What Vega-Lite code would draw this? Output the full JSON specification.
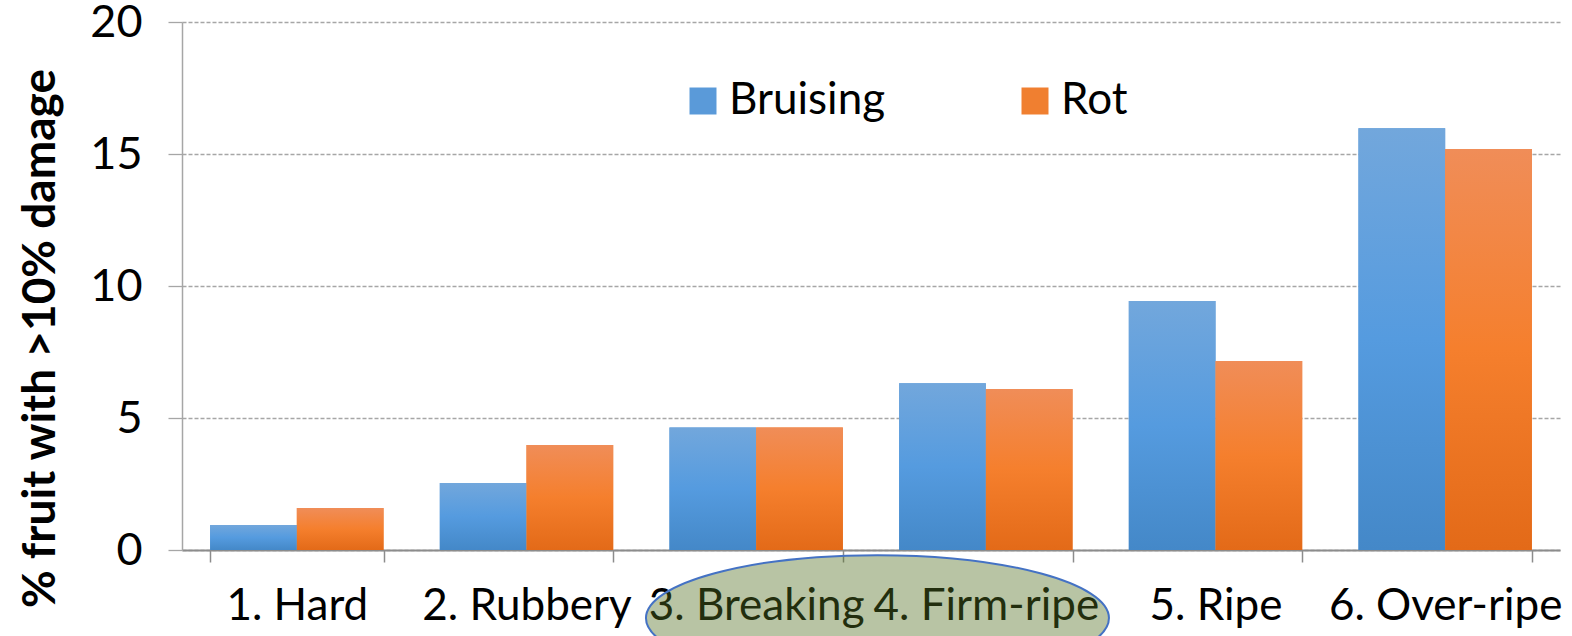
{
  "$schema": "https://vega.github.io/schema/vega-lite/v6.json",
  "autosize": "none",
  "width": 1378,
  "height": 528,
  "padding": {"left": 182, "top": 22, "right": 12, "bottom": 86},
  "background": "white",
  "config": {"view": {"stroke": null}, "font": "Lato"},
  "datasets": {
    "bars": [
      {"stage": "1. Hard", "series": "Bruising", "value": 0.95},
      {"stage": "1. Hard", "series": "Rot", "value": 1.59},
      {"stage": "2. Rubbery", "series": "Bruising", "value": 2.54},
      {"stage": "2. Rubbery", "series": "Rot", "value": 3.98},
      {"stage": "3. Breaking", "series": "Bruising", "value": 4.64},
      {"stage": "3. Breaking", "series": "Rot", "value": 4.64},
      {"stage": "4. Firm-ripe", "series": "Bruising", "value": 6.32},
      {"stage": "4. Firm-ripe", "series": "Rot", "value": 6.1},
      {"stage": "5. Ripe", "series": "Bruising", "value": 9.43},
      {"stage": "5. Ripe", "series": "Rot", "value": 7.16},
      {"stage": "6. Over-ripe", "series": "Bruising", "value": 15.98},
      {"stage": "6. Over-ripe", "series": "Rot", "value": 15.19}
    ],
    "highlight": [
      {"stage": "4. Firm-ripe", "value": -2.58}
    ]
  },
  "data": {"name": "bars"},
  "layer": [
    {
      "mark": {"type": "bar", "cornerRadius": 0},
      "encoding": {
        "x": {
          "field": "stage", "type": "nominal", "sort": null,
          "scale": {"paddingInner": 0.245, "paddingOuter": 0.1225},
          "axis": {
            "title": null, "labelAngle": 0, "labelFont": "Lato", "labelFontSize": 44,
            "labelColor": "#000000", "labelPadding": 22, "labelLimit": 400, "labelOverlap": false,
            "tickBand": "extent", "tickSize": 12, "tickColor": "#8c8c8c", "tickWidth": 1.5,
            "domainColor": "#8c8c8c", "domainWidth": 2, "zindex": 0
          }
        },
        "xOffset": {"field": "series", "type": "nominal", "scale": {"domain": ["Bruising", "Rot"], "paddingInner": 0, "paddingOuter": 0}},
        "y": {
          "field": "value", "type": "quantitative",
          "scale": {"domain": [0, 20], "nice": false},
          "axis": {
            "values": [0, 5, 10, 15, 20], "grid": true, "gridDash": [4, 2], "gridColor": "#a6a6a6", "gridWidth": 1.3,
            "tickSize": 14, "tickColor": "#a6a6a6", "tickWidth": 1.3,
            "domainColor": "#a6a6a6", "domainWidth": 1.5,
            "labelFont": "Lato", "labelFontSize": 45, "labelColor": "#000000", "labelPadding": 26,
            "title": "% fruit with >10% damage", "titleFont": "Lato", "titleFontWeight": "bold",
            "titleFontSize": 46, "titleColor": "#000000", "titleX": -118, "titleY": 316, "zindex": 0
          }
        },
        "color": {
          "field": "series", "type": "nominal",
          "scale": {"domain": ["Bruising", "Rot"], "range": ["#5a9ad9", "#f07f30"]},
          "legend": {
            "title": null, "orient": "none", "legendX": 499, "legendY": 57, "direction": "horizontal",
            "symbolType": "square", "symbolSize": 729, "symbolStrokeWidth": 0,
            "labelFont": "Lato", "labelFontSize": 44, "labelColor": "#000000", "labelOffset": 4,
            "columnPadding": 127, "padding": 0, "labelLimit": 400
          }
        }
      }
    },
    {
      "transform": [{"filter": "datum.series === 'Bruising'"}],
      "mark": {
        "type": "bar",
        "fill": {"gradient": "linear", "x1": 0, "y1": 0, "x2": 0, "y2": 1,
          "stops": [{"offset": 0, "color": "#72a7dc"}, {"offset": 0.5, "color": "#559bdf"}, {"offset": 1, "color": "#4488c8"}]}
      },
      "encoding": {
        "x": {"field": "stage", "type": "nominal", "sort": null},
        "xOffset": {"field": "series", "type": "nominal"},
        "y": {"field": "value", "type": "quantitative"}
      }
    },
    {
      "transform": [{"filter": "datum.series === 'Rot'"}],
      "mark": {
        "type": "bar",
        "fill": {"gradient": "linear", "x1": 0, "y1": 0, "x2": 0, "y2": 1,
          "stops": [{"offset": 0, "color": "#f08d58"}, {"offset": 0.5, "color": "#f57f2d"}, {"offset": 1, "color": "#e36a18"}]}
      },
      "encoding": {
        "x": {"field": "stage", "type": "nominal", "sort": null},
        "xOffset": {"field": "series", "type": "nominal"},
        "y": {"field": "value", "type": "quantitative"}
      }
    },
    {
      "data": {"name": "highlight"},
      "mark": {
        "type": "point",
        "shape": "M -1 0 C -1 -0.1502 -0.5523 -0.272 0 -0.272 C 0.5523 -0.272 1 -0.1502 1 0 C 1 0.1502 0.5523 0.272 0 0.272 C -0.5523 0.272 -1 0.1502 -1 0 Z",
        "size": 214369,
        "filled": true,
        "fill": "#537022",
        "fillOpacity": 0.41,
        "stroke": "#4472c4",
        "strokeWidth": 2,
        "strokeOpacity": 1,
        "opacity": 1,
        "clip": false
      },
      "encoding": {
        "x": {"field": "stage", "type": "nominal", "sort": null, "bandPosition": -0.125},
        "y": {"field": "value", "type": "quantitative"}
      }
    }
  ]
}
